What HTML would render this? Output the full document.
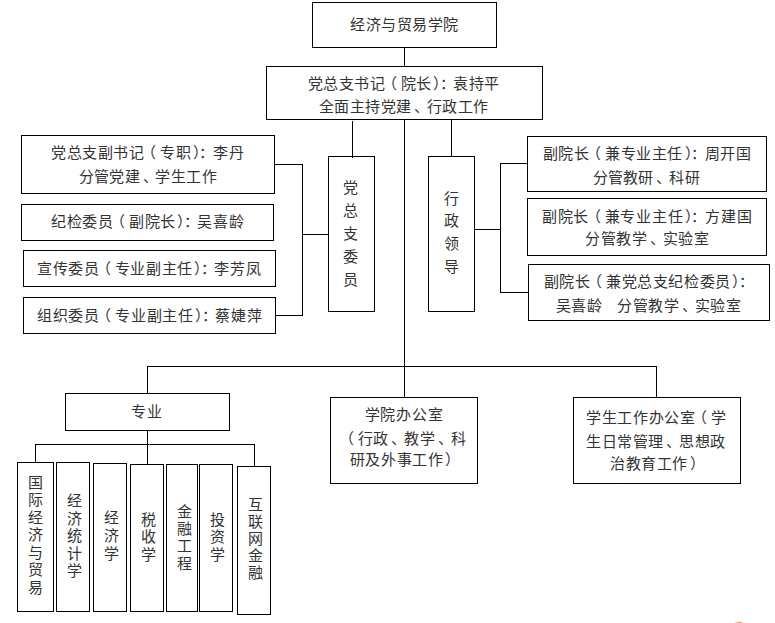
<!DOCTYPE html>
<html lang="zh-CN"><head><meta charset="utf-8"><style>
html,body{margin:0;padding:0;background:#fff;width:775px;height:623px;overflow:hidden;position:relative}
body{font-family:"Liberation Sans",sans-serif;font-size:15px;color:#333;text-spacing-trim:space-all;font-kerning:none}
.b{position:absolute;box-sizing:border-box;border:1px solid #000}
.l{position:absolute;background:#000}
.t{position:absolute;white-space:pre;line-height:20px;height:20px}
.v{position:absolute;white-space:pre;text-align:center;width:30px}
.c{margin-left:-9.5px;position:relative;left:2px}
.pc{position:relative;left:1.5px}
.po{position:relative;left:-3.5px}
.dn{position:relative;left:2.5px}
.dot{position:absolute;left:734px;top:622px;width:8px;height:1px;background:linear-gradient(to right,rgba(255,120,60,0),#ff6a30 75%,rgba(255,120,60,.3));filter:blur(.5px)}
</style></head><body>
<div class="b" style="left:312px;top:2px;width:185px;height:46px"></div>
<div class="b" style="left:266px;top:66px;width:277px;height:54px"></div>
<div class="b" style="left:21px;top:135px;width:254px;height:59px"></div>
<div class="b" style="left:21px;top:204px;width:253px;height:37px"></div>
<div class="b" style="left:23px;top:250px;width:253px;height:37px"></div>
<div class="b" style="left:23px;top:297px;width:253px;height:37px"></div>
<div class="b" style="left:328px;top:156px;width:47px;height:156px"></div>
<div class="b" style="left:428px;top:156px;width:47px;height:156px"></div>
<div class="b" style="left:527px;top:136px;width:240px;height:56px"></div>
<div class="b" style="left:527px;top:198px;width:240px;height:58px"></div>
<div class="b" style="left:528px;top:264px;width:242px;height:57px"></div>
<div class="b" style="left:65px;top:393px;width:165px;height:38px"></div>
<div class="b" style="left:330px;top:397px;width:148px;height:87px"></div>
<div class="b" style="left:573px;top:397px;width:168px;height:87px"></div>
<div class="b" style="left:17px;top:462px;width:37px;height:150px"></div>
<div class="b" style="left:56px;top:462px;width:34px;height:150px"></div>
<div class="b" style="left:93px;top:463px;width:34px;height:149px"></div>
<div class="b" style="left:130px;top:464px;width:34px;height:148px"></div>
<div class="b" style="left:166px;top:464px;width:32px;height:148px"></div>
<div class="b" style="left:199px;top:464px;width:34px;height:148px"></div>
<div class="b" style="left:237px;top:466px;width:34px;height:149px"></div>
<div class="l" style="left:404px;top:47px;width:1px;height:20px"></div>
<div class="l" style="left:352px;top:121px;width:1px;height:37px"></div>
<div class="l" style="left:404px;top:119px;width:1px;height:279px"></div>
<div class="l" style="left:451px;top:119px;width:1px;height:38px"></div>
<div class="l" style="left:274px;top:164px;width:29px;height:1px"></div>
<div class="l" style="left:302px;top:164px;width:1px;height:152px"></div>
<div class="l" style="left:275px;top:315px;width:28px;height:1px"></div>
<div class="l" style="left:302px;top:234px;width:27px;height:1px"></div>
<div class="l" style="left:500px;top:163px;width:1px;height:130px"></div>
<div class="l" style="left:500px;top:163px;width:28px;height:1px"></div>
<div class="l" style="left:474px;top:229px;width:27px;height:1px"></div>
<div class="l" style="left:500px;top:292px;width:29px;height:1px"></div>
<div class="l" style="left:147px;top:366px;width:510px;height:1px"></div>
<div class="l" style="left:147px;top:366px;width:1px;height:28px"></div>
<div class="l" style="left:656px;top:366px;width:1px;height:32px"></div>
<div class="l" style="left:147px;top:430px;width:1px;height:35px"></div>
<div class="l" style="left:35px;top:444px;width:220px;height:1px"></div>
<div class="l" style="left:35px;top:444px;width:1px;height:19px"></div>
<div class="l" style="left:254px;top:444px;width:1px;height:23px"></div>
<div class="t" style="left:350.00px;top:15.20px;letter-spacing:0.500px">经济与贸易学院</div>
<div class="t" style="left:307.80px;top:73.90px;letter-spacing:0.500px">党总支书记<span class=po>（</span>院长<span class=pc>）</span><span class=c>：</span>袁持平</div>
<div class="t" style="left:319.00px;top:97.00px;letter-spacing:0.400px">全面主持党建<span class=dn>、</span>行政工作</div>
<div class="t" style="left:51.00px;top:143.00px;letter-spacing:0.583px">党总支副书记<span class=po>（</span>专职<span class=pc>）</span><span class=c>：</span>李丹</div>
<div class="t" style="left:78.50px;top:166.60px;letter-spacing:0.375px">分管党建<span class=dn>、</span>学生工作</div>
<div class="t" style="left:51.00px;top:212.30px;letter-spacing:0.583px">纪检委员<span class=po>（</span>副院长<span class=pc>）</span><span class=c>：</span>吴喜龄</div>
<div class="t" style="left:37.00px;top:259.40px;letter-spacing:0.571px">宣传委员<span class=po>（</span>专业副主任<span class=pc>）</span><span class=c>：</span>李芳凤</div>
<div class="t" style="left:37.00px;top:306.10px;letter-spacing:0.643px">组织委员<span class=po>（</span>专业副主任<span class=pc>）</span><span class=c>：</span>蔡婕萍</div>
<div class="t" style="left:542.50px;top:144.20px;letter-spacing:0.615px">副院长<span class=po>（</span>兼专业主任<span class=pc>）</span><span class=c>：</span>周开国</div>
<div class="t" style="left:592.50px;top:167.80px;letter-spacing:0.333px">分管教研<span class=dn>、</span>科研</div>
<div class="t" style="left:542.00px;top:206.50px;letter-spacing:0.692px">副院长<span class=po>（</span>兼专业主任<span class=pc>）</span><span class=c>：</span>方建国</div>
<div class="t" style="left:585.00px;top:229.00px;letter-spacing:0.571px">分管教学<span class=dn>、</span>实验室</div>
<div class="t" style="left:543.50px;top:272.40px;letter-spacing:0.615px">副院长<span class=po>（</span>兼党总支纪检委员<span class=pc>）</span><span class=c>：</span></div>
<div class="t" style="left:555.60px;top:295.50px;letter-spacing:0.455px">吴喜龄　分管教学<span class=dn>、</span>实验室</div>
<div class="t" style="left:130.70px;top:402.30px;letter-spacing:1.000px">专业</div>
<div class="t" style="left:364.60px;top:405.00px;letter-spacing:0.750px">学院办公室</div>
<div class="t" style="left:342.60px;top:428.50px;letter-spacing:0.429px"><span class=po>（</span>行政<span class=dn>、</span>教学<span class=dn>、</span>科</div>
<div class="t" style="left:349.70px;top:450.00px;letter-spacing:0.667px">研及外事工作<span class=pc>）</span></div>
<div class="t" style="left:586.00px;top:408.40px;letter-spacing:0.625px">学生工作办公室<span class=po>（</span>学</div>
<div class="t" style="left:586.00px;top:431.60px;letter-spacing:0.500px">生日常管理<span class=dn>、</span>思想政</div>
<div class="t" style="left:610.00px;top:454.00px;letter-spacing:0.600px">治教育工作<span class=pc>）</span></div>
<div class="v" style="left:335.00px;top:177.06px;line-height:22.875px">党<br>总<br>支<br>委<br>员</div>
<div class="v" style="left:436.00px;top:187.67px;line-height:22.667px">行<br>政<br>领<br>导</div>
<div class="v" style="left:20.60px;top:473.87px;line-height:17.467px">国<br>际<br>经<br>济<br>与<br>贸<br>易</div>
<div class="v" style="left:59.60px;top:492.48px;line-height:17.450px">经<br>济<br>统<br>计<br>学</div>
<div class="v" style="left:96.20px;top:508.97px;line-height:18.050px">经<br>济<br>学</div>
<div class="v" style="left:133.40px;top:510.95px;line-height:17.500px">税<br>收<br>学</div>
<div class="v" style="left:169.50px;top:502.58px;line-height:17.433px">金<br>融<br>工<br>程</div>
<div class="v" style="left:202.30px;top:510.95px;line-height:17.500px">投<br>资<br>学</div>
<div class="v" style="left:240.00px;top:495.71px;line-height:17.175px">互<br>联<br>网<br>金<br>融</div>
<div class="dot"></div>
</body></html>
